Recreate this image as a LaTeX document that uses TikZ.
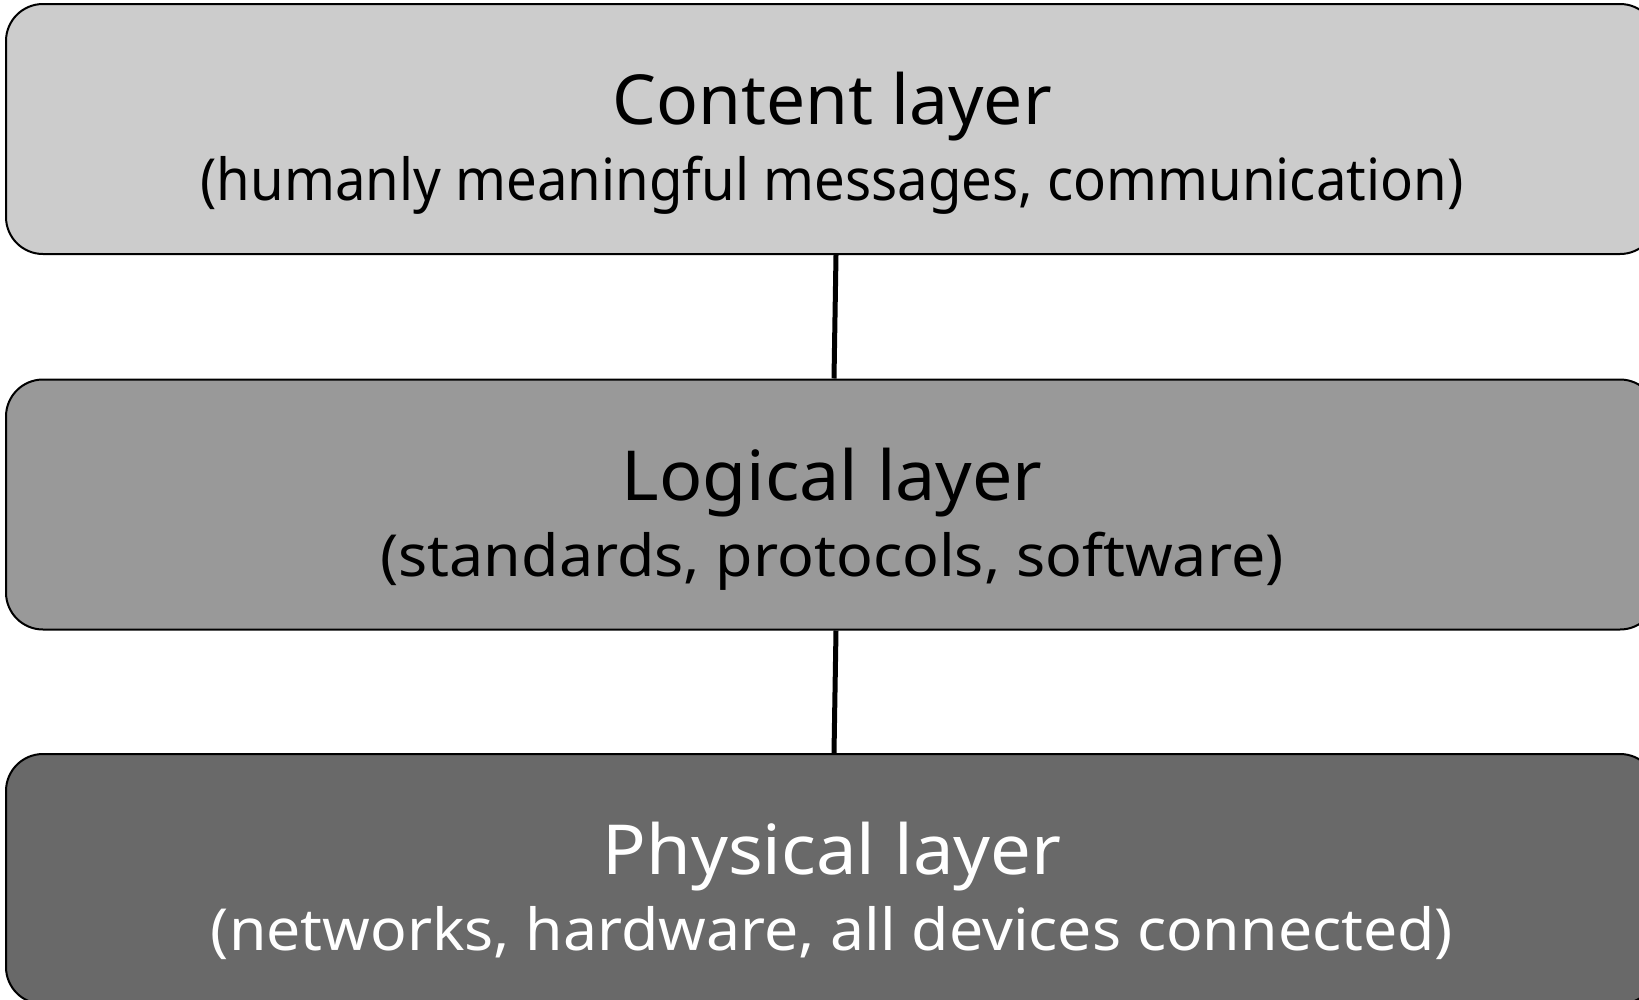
\documentclass[tikz,border=0pt]{standalone}
\usepackage{fontspec}
\usepackage{graphicx}
\setmainfont{Noto Sans}
\usetikzlibrary{calc}
\definecolor{topfill}{HTML}{CCCCCC}
\definecolor{midfill}{HTML}{999999}
\definecolor{botfill}{HTML}{696969}
\newcommand{\hsq}[2]{\scalebox{#1}[1]{#2}}
\begin{document}
\begin{tikzpicture}[x=1pt,y=-1pt,
  layerbox/.style={draw=black,line width=2pt,rounded corners=37pt,inner sep=0pt,
    minimum width=1651pt,minimum height=250pt,rectangle},
  titletext/.style={anchor=base,inner sep=0pt,font=\fontsize{69}{80}\selectfont},
  subtext/.style={anchor=base,inner sep=0pt,font=\fontsize{58}{70}\selectfont},
  link/.style={draw=black,line width=5pt}]
\useasboundingbox (0,0) rectangle (1639,999);
\node[layerbox,fill=topfill] (c) at (831.5,129) {};
\node[layerbox,fill=midfill] (l) at (831.5,504.5) {};
\node[layerbox,fill=botfill] (p) at (831.5,879) {};
\node[titletext] (ct) at (832,124) {\hsq{1.007}{Content layer}};
\node[subtext] (cs) at (832,200) {\hsq{0.94}{(humanly meaningful messages, communication)}};
\node[titletext] (lt) at (832,500) {\hsq{1.04}{Logical layer}};
\node[subtext] (ls) at (832,576) {\hsq{1.05}{(standards, protocols, software)}};
\node[titletext,text=white] (pt) at (832,874) {\hsq{1.05}{Physical layer}};
\node[subtext,text=white] (ps) at (832,950) {\hsq{1.047}{(networks, hardware, all devices connected)}};
\coordinate (c1) at ($(c.south)+(4.5,0)$);
\coordinate (l1) at ($(l.north)+(2.5,0)$);
\coordinate (l2) at ($(l.south)+(4.5,0)$);
\coordinate (p1) at ($(p.north)+(2.5,0)$);
\draw[link] (c1) -- (l1);
\draw[link] (l2) -- (p1);
\end{tikzpicture}
\end{document}
